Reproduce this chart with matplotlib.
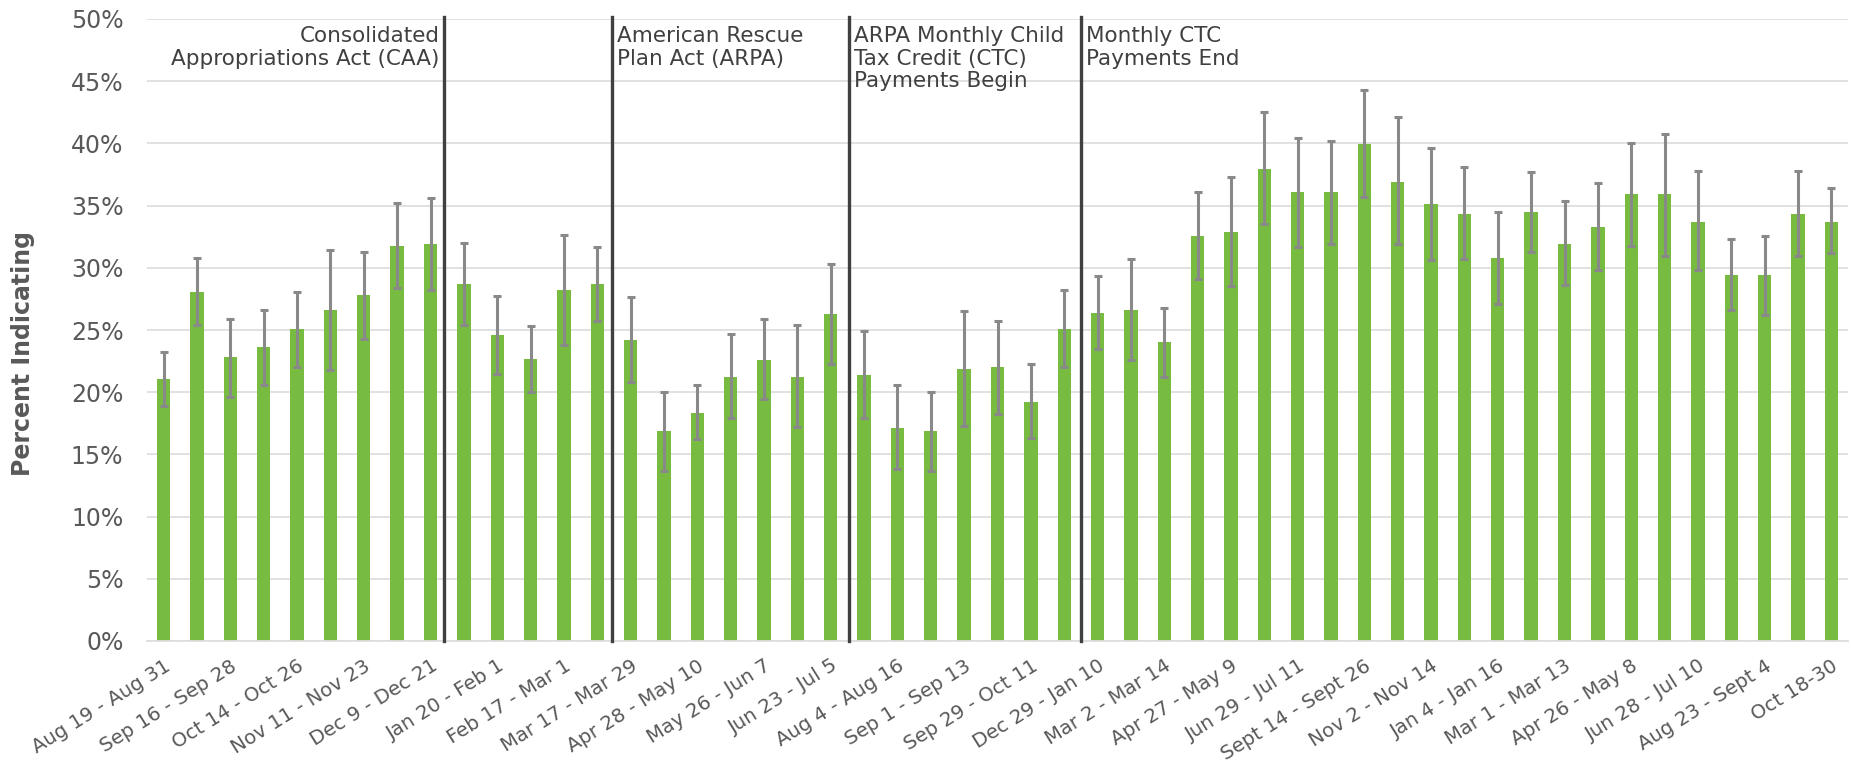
import matplotlib.pyplot as plt
import numpy as np

# Percent indicating, with the upper and lower ends of the error bars
pct = [21.05, 28.05, 22.8, 23.6, 25.05, 26.6, 27.8, 31.75, 31.9, 28.7,
       24.6, 22.65, 28.2, 28.7, 24.2, 16.9, 18.35, 21.25, 22.6, 21.25,
       26.3, 21.4, 17.15, 16.9, 21.9, 22.0, 19.2, 25.05, 26.4, 26.6,
       24.0, 32.55, 32.85, 37.95, 36.07, 36.07, 39.95, 36.9, 35.1, 34.3,
       30.8, 34.45, 31.9, 33.25, 35.9, 35.9, 33.7, 29.45, 29.4, 34.3,
       33.7]
upper = [23.25, 30.8, 25.9, 26.6, 28.05, 31.4, 31.3, 35.2, 35.6, 32.0,
         27.7, 25.3, 32.6, 31.7, 27.65, 20.05, 20.6, 24.7, 25.9, 25.4,
         30.3, 24.9, 20.6, 20.05, 26.5, 25.7, 22.3, 28.2, 29.35, 30.7,
         26.8, 36.1, 37.3, 42.5, 40.4, 40.2, 44.3, 42.1, 39.6, 38.1,
         34.5, 37.7, 35.35, 36.8, 40.0, 40.75, 37.75, 32.3, 32.55, 37.75,
         36.4]
lower = [18.9, 25.4, 19.65, 20.6, 22.05, 21.8, 24.25, 28.4, 28.2, 25.4,
         21.5, 20.05, 23.8, 25.7, 20.85, 13.7, 16.2, 17.9, 19.45, 17.2,
         22.3, 17.9, 13.8, 13.7, 17.3, 18.25, 16.3, 22.0, 23.5, 22.6,
         21.2, 29.1, 28.5, 33.5, 31.7, 31.95, 35.7, 31.9, 30.6, 30.7,
         27.1, 31.3, 28.6, 29.8, 31.75, 30.95, 29.8, 26.6, 26.2, 30.95,
         31.2]

# only every other week is labelled
tick_labels = ['Aug 19 - Aug 31', 'Sep 16 - Sep 28', 'Oct 14 - Oct 26',
               'Nov 11 - Nov 23', 'Dec 9 - Dec 21', 'Jan 20 - Feb 1',
               'Feb 17 - Mar 1', 'Mar 17 - Mar 29', 'Apr 28 - May 10',
               'May 26 - Jun 7', 'Jun 23 - Jul 5', 'Aug 4 - Aug 16',
               'Sep 1 - Sep 13', 'Sep 29 - Oct 11', 'Dec 29 - Jan 10',
               'Mar 2 - Mar 14', 'Apr 27 - May 9', 'Jun 29 - Jul 11',
               'Sept 14 - Sept 26', 'Nov 2 - Nov 14', 'Jan 4 - Jan 16',
               'Mar 1 - Mar 13', 'Apr 26 - May 8', 'Jun 28 - Jul 10',
               'Aug 23 - Sept 4', 'Oct 18-30']

# policy events, placed between survey weeks
event_pos = [8.4, 13.45, 20.55, 27.5]
event_text = ['Consolidated\nAppropriations Act (CAA)',
              'American Rescue\nPlan Act (ARPA)',
              'ARPA Monthly Child\nTax Credit (CTC)\nPayments Begin',
              'Monthly CTC\nPayments End']

plt.rcParams['font.family'] = ['DejaVu Sans']

fig = plt.figure(figsize=(18.51, 7.70), dpi=100)
ax = fig.add_axes([147 / 1851, 129 / 770, 1701 / 1851, 622 / 770])

pct = np.array(pct)
x = np.arange(len(pct))
yerr = [pct - np.array(lower), np.array(upper) - pct]

ax.bar(x, pct, width=0.4, color='#77bb41', zorder=2)
ax.errorbar(x, pct, yerr=yerr, fmt='none', ecolor='#898989',
            elinewidth=2.2, capsize=2.6, capthick=2.2, zorder=3)

ax.set_xlim(-0.5, len(pct) - 0.5)
ax.set_ylim(0, 50)
ax.set_yticks(range(0, 51, 5))
ax.set_yticklabels([f'{v}%' for v in range(0, 51, 5)], fontsize=17, color='#595959')
ax.set_xticks(x[::2])
ax.set_xticklabels(tick_labels, rotation=32, ha='right', va='top',
                   rotation_mode='anchor', fontsize=14.2, color='#595959')
ax.tick_params(axis='both', length=0)
ax.tick_params(axis='y', pad=17)
ax.tick_params(axis='x', pad=11)

ax.yaxis.grid(True, color='#dedede', lw=1.3)
ax.set_axisbelow(True)
for s in ['top', 'right', 'left']:
    ax.spines[s].set_visible(False)
ax.spines['bottom'].set_color('#dedede')
ax.spines['bottom'].set_linewidth(1.3)

ax.set_ylabel('Percent Indicating', fontsize=17, color='#595959', weight='bold')
ax.yaxis.set_label_coords(-0.066, 0.462)

for i, (pos, txt) in enumerate(zip(event_pos, event_text)):
    ax.axvline(pos, ymax=1.004, color='#404040', lw=2.4, zorder=4, clip_on=False)
    if i == 0:
        ax.text(pos - 0.12, 49.4, txt, ha='right', va='top', fontsize=15.5,
                color='#404040', linespacing=1.15)
    else:
        ax.text(pos + 0.15, 49.4, txt, ha='left', va='top', fontsize=15.5,
                color='#404040', linespacing=1.15)

fig.savefig('out.png', dpi=100)
